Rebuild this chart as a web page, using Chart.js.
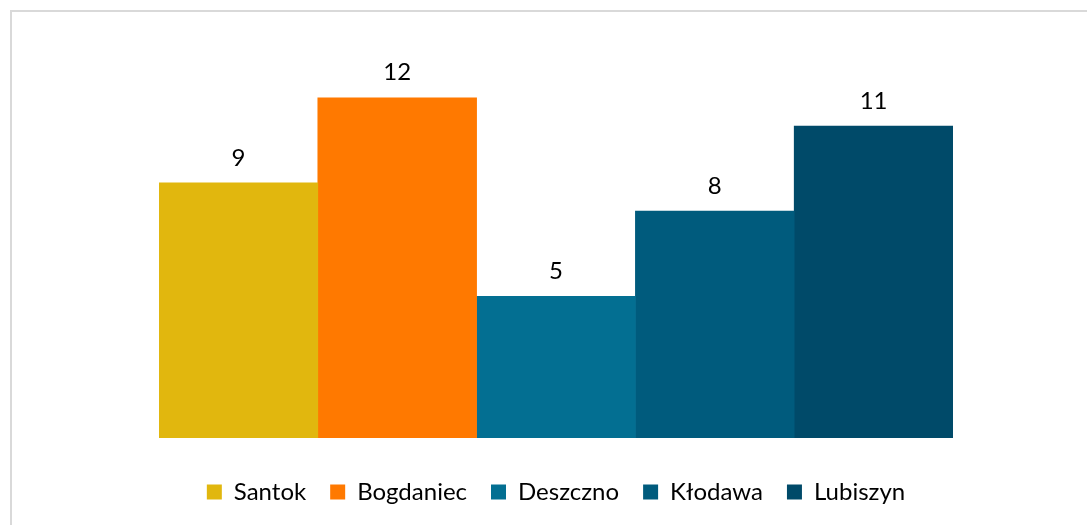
<!DOCTYPE html>
<html>
<head>
<meta charset="utf-8">
<script src="https://cdn.jsdelivr.net/npm/chart.js@4"></script>
<style>
  html, body { margin: 0; padding: 0; background: #fff; overflow: hidden; }
  #frame {
    position: absolute; left: 10px; top: 10px;
    width: 1100px; height: 540px;
    border: 2px solid #d9d9d9;
  }
  #wrap { position: absolute; left: 0; top: 0; width: 1087px; height: 525px; }
</style>
</head>
<body>
<div id="frame"></div>
<div id="wrap"><canvas id="chart" width="1087" height="525"></canvas></div>
<script>
// gminy and their counts
const gminy = ["Santok", "Bogdaniec", "Deszczno", "Kłodawa", "Lubiszyn"];
const values = [9, 12, 5, 8, 11];
const colors = ["#e1b70e", "#ff7900", "#036f92", "#005b7d", "#004a69"];

// draw the number over each bar
const barLabels = {
  id: "barLabels",
  afterDatasetsDraw(chart) {
    const ctx = chart.ctx;
    ctx.save();
    ctx.font = "24px Lato";
    ctx.fillStyle = "#000";
    ctx.textAlign = "center";
    ctx.textBaseline = "middle";
    chart.data.datasets.forEach((ds, i) => {
      const bar = chart.getDatasetMeta(i).data[0];
      ctx.fillText(ds.data[0], bar.x, bar.y - 25);
    });
    ctx.restore();
  }
};

new Chart(document.getElementById("chart"), {
  type: "bar",
  data: {
    labels: [""],
    datasets: gminy.map((name, i) => ({
      label: name,
      data: [values[i]],
      backgroundColor: colors[i],
      categoryPercentage: 1,
      barPercentage: 1
    }))
  },
  options: {
    responsive: false,
    animation: false,
    layout: { padding: { left: 159, right: 134, top: 41, bottom: 14 } },
    scales: {
      y: { display: false, min: 0, max: 14 },
      x: {
        grid: { display: false },
        border: { display: false },
        ticks: { display: false },
        afterFit: (scale) => { scale.height = 18; }
      }
    },
    plugins: {
      legend: {
        position: "bottom",
        maxHeight: 55,
        labels: {
          boxWidth: 15,
          boxHeight: 15,
          padding: 24,
          color: "#000",
          font: { family: "Lato", size: 24 }
        }
      },
      tooltip: { enabled: false }
    }
  },
  plugins: [barLabels]
});
</script>
</body>
</html>
